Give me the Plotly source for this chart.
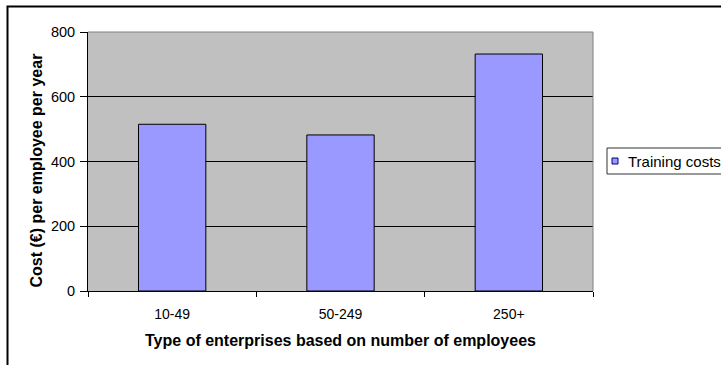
import plotly.graph_objects as go

categories = ["10-49", "50-249", "250+"]
values = [515, 482, 732]
series_name = "Training costs"
y_ticks = [0, 200, 400, 600, 800]
bar_color = "#9999FF"

fig = go.Figure()
fig.add_trace(go.Bar(
    x=categories, y=values, name=series_name,
    marker=dict(color=bar_color, line=dict(color="#000000", width=1)),
    width=0.4, showlegend=False,
))

L, R, T, B = 88, 593, 32, 291
W, H = 721, 365
pw, ph = R - L, B - T
FONT = "Arial, Liberation Sans, sans-serif"

def px(x):
    return (x - L) / pw

def py(y):
    return (B - y) / ph

fig.update_layout(
    width=W, height=H,
    margin=dict(l=L, r=W - R, t=T, b=H - B, autoexpand=False),
    paper_bgcolor="white",
    plot_bgcolor="#C0C0C0",
    font=dict(family=FONT, size=14, color="black"),
    showlegend=False,
    xaxis=dict(
        type="category", tickson="boundaries", ticks="outside", ticklen=5,
        tickcolor="black", showline=True, linecolor="black", linewidth=1,
        showgrid=False, tickfont=dict(size=14), ticklabelstandoff=10,
        title=dict(text="<b>Type of enterprises based on number of employees</b>",
                   font=dict(size=16), standoff=14),
    ),
    yaxis=dict(
        range=[0, 800], tickvals=y_ticks, ticks="outside", ticklen=7,
        tickcolor="black", showline=True, linecolor="black", linewidth=1,
        showgrid=True, gridcolor="black", gridwidth=1, zeroline=False,
        tickfont=dict(size=14.5), ticklabelstandoff=2,
    ),
    annotations=[
        dict(text="<b>Cost (€) per employee per year</b>", textangle=-90,
             xref="paper", yref="paper", x=px(35.5), y=py(171),
             xanchor="center", yanchor="middle", showarrow=False,
             font=dict(size=16, family=FONT)),
        dict(text=series_name, xref="paper", yref="paper",
             x=px(626), y=py(161), xanchor="left", yanchor="middle",
             showarrow=False, font=dict(size=15, family=FONT)),
    ],
    shapes=[
        dict(type="line", xref="paper", yref="paper", x0=0, x1=1, y0=1, y1=1,
             line=dict(color="#808080", width=1)),
        dict(type="line", xref="paper", yref="paper", x0=1, x1=1, y0=0, y1=1,
             line=dict(color="#808080", width=1)),
        # outer chart frame
        dict(type="rect", xref="paper", yref="paper",
             x0=px(7.5), x1=px(760), y0=py(400), y1=py(6.5),
             line=dict(color="black", width=2), layer="below"),
        # legend box
        dict(type="rect", xref="paper", yref="paper",
             x0=px(607), x1=px(740), y0=py(174), y1=py(148),
             line=dict(color="#333333", width=1), fillcolor="white"),
        # legend key
        dict(type="rect", xref="paper", yref="paper",
             x0=px(612), x1=px(618), y0=py(164), y1=py(158),
             line=dict(color="#000080", width=1), fillcolor=bar_color),
    ],
)

fig.write_html("out.html")
